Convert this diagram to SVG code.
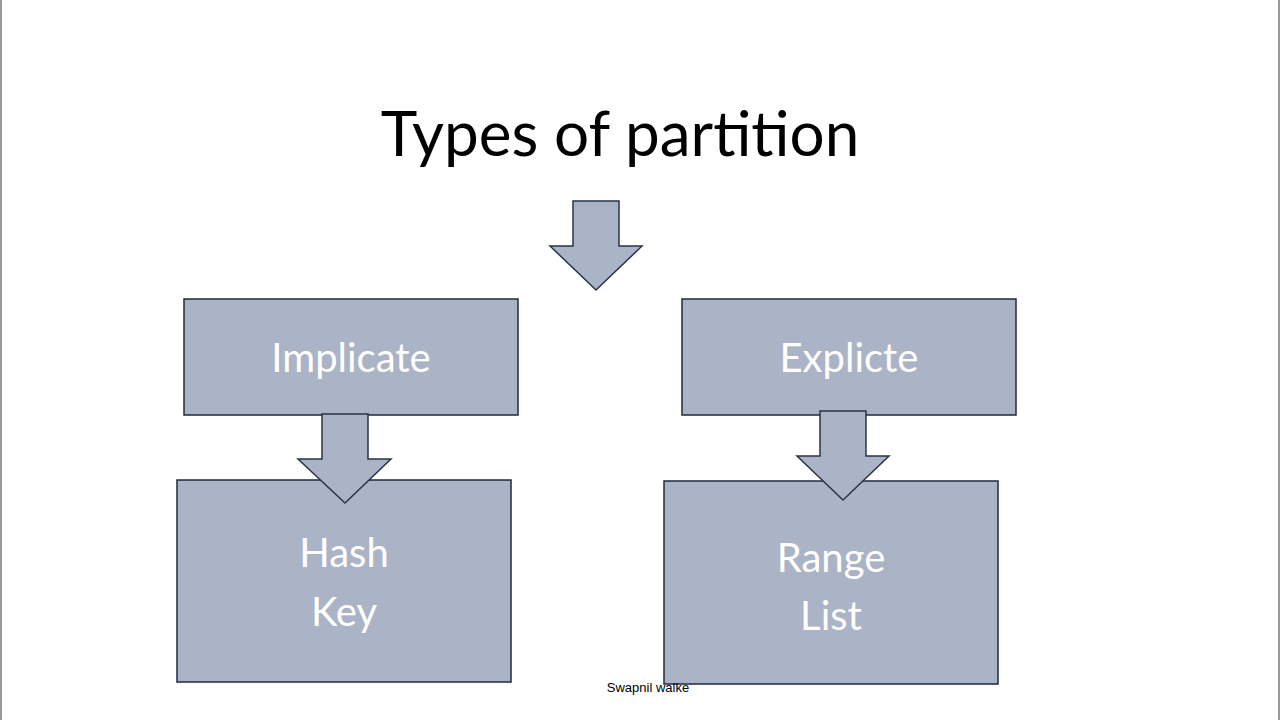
<svg xmlns="http://www.w3.org/2000/svg" width="1280" height="720" viewBox="0 0 1280 720">
<style>
.box{fill:#abb4c6;stroke:#1f2a3c;stroke-width:1.5}
.arr{fill:#abb4c6;stroke:#2a3346;stroke-width:1.5}
.lbl{font-family:Lato,"Open Sans",sans-serif;font-size:40px;fill:#ffffff;text-anchor:middle}
</style>
<rect width="1280" height="720" fill="#ffffff"/>
<line x1="1" y1="0" x2="1" y2="720" stroke="#777" stroke-width="1.5"/>
<line x1="1279" y1="0" x2="1279" y2="720" stroke="#777" stroke-width="1.5"/>
<text x="620" y="156" font-family="Lato,'Open Sans',sans-serif" font-size="62" fill="#000" text-anchor="middle">Types of partition</text>
<g id="implicate"><rect class="box" x="184" y="299" width="334" height="116"/><text class="lbl" x="351" y="372">Implicate</text></g>
<g id="explicte"><rect class="box" x="682" y="299" width="334" height="116"/><text class="lbl" x="849" y="372">Explicte</text></g>
<g id="hash"><rect class="box" x="177" y="480" width="334" height="202"/><text class="lbl" x="344" y="567">Hash</text><text class="lbl" x="344" y="626">Key</text></g>
<g id="range"><rect class="box" x="664" y="481" width="334" height="203"/><text class="lbl" x="831" y="572">Range</text><text class="lbl" x="831" y="630">List</text></g>
<g id="connectors">
<polygon class="arr" points="573,201 619,201 619,246 642,246 596,290 550,246 573,246"/>
<polygon class="arr" points="322,414 368,414 368,459 391,459 345,503 298,459 322,459"/>
<polygon class="arr" points="820,411 866,411 866,456 889,456 843,500 797,456 820,456"/>
</g>
<text x="648" y="692" font-family="'Liberation Sans',sans-serif" font-size="13" fill="#000" text-anchor="middle">Swapnil walke</text>
</svg>
